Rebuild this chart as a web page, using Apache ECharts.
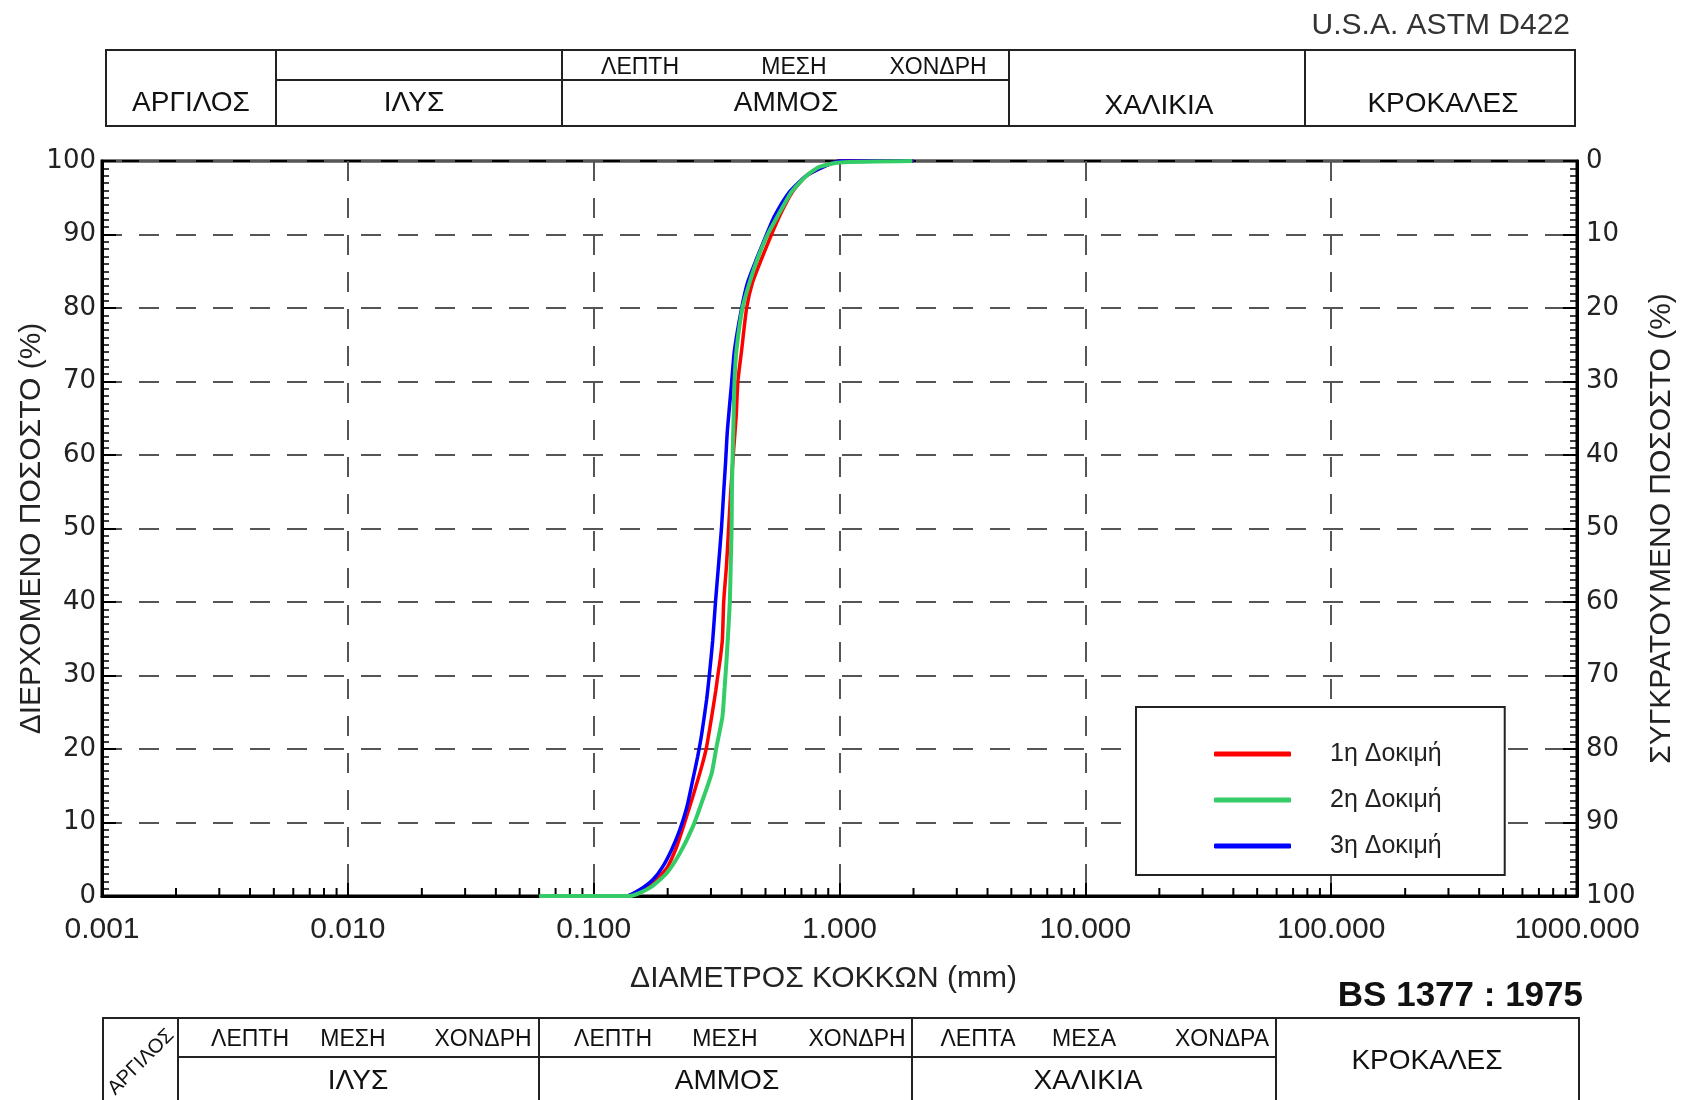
<!DOCTYPE html>
<html><head><meta charset="utf-8">
<script src="https://cdn.jsdelivr.net/npm/echarts@6/dist/echarts.min.js"></script>
<style>html,body{margin:0;padding:0;background:#fff}#c{width:1686px;height:1100px}</style>
</head><body><div id="c"></div>
<script>
// ---- data (diameter mm, % passing) ----
const seriesNames = ['1η Δοκιμή', '2η Δοκιμή', '3η Δοκιμή'];
const seriesColors = ['#ff0000', '#33cc66', '#0000ff'];
const test1 = [[0.082,0],[0.136,0],[0.158,1.0],[0.180,2.2],[0.200,4.0],[0.2175,6.7],[0.234,9.9],[0.253,13.5],[0.275,17.6],[0.288,20.3],[0.302,24.4],[0.314,28.0],[0.320,30.0],[0.328,32.5],[0.334,35.0],[0.338,40.0],[0.347,45.0],[0.354,50.0],[0.361,55.0],[0.371,60.7],[0.380,65.3],[0.386,70.0],[0.400,74.3],[0.419,80.0],[0.443,83.5],[0.482,86.7],[0.529,90.0],[0.570,92.5],[0.644,95.8],[0.734,98.0],[0.886,99.4],[1.0,100],[2.0,100]];
const test2 = [[0.060,0],[0.140,0],[0.169,1.1],[0.198,3.1],[0.224,5.8],[0.253,9.4],[0.277,13.0],[0.302,16.7],[0.316,20.3],[0.334,24.4],[0.341,28.4],[0.347,32.0],[0.351,34.8],[0.358,40.0],[0.361,45.0],[0.364,50.0],[0.365,55.0],[0.367,58.9],[0.371,65.3],[0.374,70.0],[0.381,74.3],[0.403,80.0],[0.431,83.5],[0.464,86.7],[0.510,90.0],[0.560,92.5],[0.638,95.8],[0.734,98.0],[0.829,99.2],[1.0,99.8],[1.98,100]];
const test3 = [[0.082,0],[0.136,0],[0.158,1.1],[0.174,2.2],[0.191,4.0],[0.2075,6.3],[0.224,9.0],[0.239,12.0],[0.253,15.8],[0.265,19.0],[0.275,22.0],[0.288,26.7],[0.296,30.3],[0.305,34.8],[0.313,40.0],[0.322,45.0],[0.331,50.0],[0.338,55.0],[0.344,59.0],[0.350,63.4],[0.364,69.8],[0.374,74.3],[0.400,80.0],[0.423,83.5],[0.460,86.7],[0.505,90.0],[0.544,92.5],[0.626,95.8],[0.734,98.0],[0.886,99.4],[1.0,100],[2.0,100]];

// ---- axis ticks ----
const xTickValues = [0.001, 0.01, 0.1, 1, 10, 100, 1000];
const xTickLabels = ['0.001', '0.010', '0.100', '1.000', '10.000', '100.000', '1000.000'];
const xMinorMultipliers = [2, 3, 4, 5, 6, 7, 8, 9];
const yLeftLabels = ['0','10','20','30','40','50','60','70','80','90','100'];
const yRightLabels = ['0','10','20','30','40','50','60','70','80','90','100'];

// ---- texts ----
const xTitle = 'ΔΙΑΜΕΤΡΟΣ ΚΟΚΚΩΝ (mm)';
const yLeftTitle = 'ΔΙΕΡΧΟΜΕΝΟ ΠΟΣΟΣΤΟ (%)';
const yRightTitle = 'ΣΥΓΚΡΑΤΟΥΜΕΝΟ ΠΟΣΟΣΤΟ (%)';
const topStandard = 'U.S.A. ASTM D422';
const bottomStandard = 'BS 1377 : 1975';

const xMinorTicks = [];
xTickValues.slice(0, -1).forEach(d => xMinorMultipliers.forEach(m => xMinorTicks.push(+(d * m).toPrecision(3))));

const SANS = '"Liberation Sans", Arial, sans-serif';
const chart = echarts.init(document.getElementById('c'), null, {renderer: 'canvas'});

function xLabel(v) {
  const i = xTickValues.findIndex(t => Math.abs(Math.log10(t) - Math.log10(v)) < 1e-6);
  return i >= 0 ? xTickLabels[i] : '';
}
const dash = {type: [20, 17], color: '#555', width: 2};

const series = [
  {name: seriesNames[0], data: test1, color: seriesColors[0], w: 3.5},
  {name: seriesNames[2], data: test3, color: seriesColors[2], w: 3.5},
  {name: seriesNames[1], data: test2, color: seriesColors[1], w: 4}
].map(s => ({
  type: 'line', name: s.name, data: s.data, showSymbol: false, symbol: 'none',
  smooth: 0.2, clip: false, color: s.color, z: 5,
  lineStyle: {color: s.color, width: s.w}
}));

series.push({
  type: 'custom', name: 'minorTicks', silent: true, clip: false, z: 3,
  data: xMinorTicks.map(v => [v, 0]),
  renderItem: (params, api) => {
    const p = api.coord([api.value(0), 0]);
    return {type: 'line', shape: {x1: p[0], y1: p[1], x2: p[0], y2: p[1] - 8},
            style: {stroke: '#000', lineWidth: 2}};
  }
});

const yAxisCommon = {
  type: 'value', min: 0, max: 100, interval: 10,
  axisLine: {show: true, lineStyle: {color: '#000', width: 3}},
  axisTick: {show: true, inside: true, length: 14, lineStyle: {color: '#000', width: 2}},
  minorTick: {show: true, splitNumber: 10, length: 7, lineStyle: {color: '#000', width: 1.5}},
  nameLocation: 'middle', nameRotate: 90,
  nameTextStyle: {fontFamily: SANS, fontSize: 30, color: '#222'}
};

chart.setOption({
  animation: false,
  backgroundColor: '#fff',
  grid: {left: 102, top: 161, width: 1475, height: 735, show: true,
         borderColor: '#000', borderWidth: 3, backgroundColor: 'transparent',
         containLabel: false, outerBoundsMode: 'none'},
  legend: {
    data: seriesNames, orient: 'vertical', left: 1136, top: 707,
    padding: [32, 63, 14, 78], itemGap: 16, itemWidth: 77, itemHeight: 5,
    icon: 'roundRect', borderColor: '#222', borderWidth: 2, backgroundColor: '#fff',
    selectedMode: false,
    textStyle: {fontFamily: SANS, fontSize: 25, color: '#222', lineHeight: 30, padding: [0, 0, 0, 34]}
  },
  xAxis: {
    type: 'log', logBase: 10, min: 0.001, max: 1000, splitNumber: 6,
    name: xTitle, nameLocation: 'middle', nameGap: 68, nameMoveOverlap: false,
    nameTextStyle: {fontFamily: SANS, fontSize: 30, color: '#222', padding: [0, 32, 0, 0]},
    axisLine: {show: true, lineStyle: {color: '#000', width: 3}},
    axisTick: {show: true, inside: true, length: 13, lineStyle: {color: '#000', width: 2}},
    minorTick: {show: false},
    splitLine: {show: true, lineStyle: dash},
    axisLabel: {formatter: xLabel, fontFamily: SANS, fontSize: 30, color: '#222', margin: 19,
                showMinLabel: true, showMaxLabel: true, hideOverlap: false}
  },
  yAxis: [
    Object.assign({}, yAxisCommon, {
      position: 'left', name: yLeftTitle, nameGap: 55, nameMoveOverlap: false,
      splitLine: {show: true, lineStyle: dash},
      axisLabel: {formatter: (v) => yLeftLabels[Math.round(v / 10)], fontFamily: '"DejaVu Sans", Verdana, sans-serif',
                  fontSize: 26, color: '#222', margin: 6}
    }),
    Object.assign({}, yAxisCommon, {
      position: 'right', inverse: true, name: yRightTitle, nameGap: 70, nameMoveOverlap: false,
      splitLine: {show: false},
      axisLabel: {formatter: (v) => yRightLabels[Math.round(v / 10)], fontFamily: '"DejaVu Sans", Verdana, sans-serif',
                  fontSize: 26, color: '#222', margin: 9}
    })
  ],
  series: series
});

// ---- classification tables (decoration) ----
const G = [];
const LW = 2, LC = '#222';
function ln(x1, y1, x2, y2) { G.push({type: 'line', silent: true, shape: {x1, y1, x2, y2}, style: {stroke: LC, lineWidth: LW}}); }
function rc(x, y, w, h) { G.push({type: 'rect', silent: true, shape: {x, y, width: w, height: h}, style: {stroke: LC, lineWidth: LW, fill: 'none'}}); }
function tx(x, y, text, size, extra) {
  G.push(Object.assign({type: 'text', silent: true, x, y,
    style: {text, fill: '#111', font: size + 'px ' + SANS, align: 'center', verticalAlign: 'middle'}}, extra || {}));
}
// top table (ASTM)
rc(106, 50, 1469, 76);
[276, 562, 1009, 1305].forEach(x => ln(x, 50, x, 126));
ln(276, 80, 1009, 80);
tx(191, 103, 'ΑΡΓΙΛΟΣ', 28);
tx(414, 103, 'ΙΛΥΣ', 28);
tx(640, 68, 'ΛΕΠΤΗ', 23); tx(794, 68, 'ΜΕΣΗ', 23); tx(938, 68, 'ΧΟΝΔΡΗ', 23);
tx(786, 103, 'ΑΜΜΟΣ', 28);
tx(1159, 106, 'ΧΑΛΙΚΙΑ', 28);
tx(1443, 104, 'ΚΡΟΚΑΛΕΣ', 28);
G.push({type: 'text', silent: true, x: 1570, y: 26,
  style: {text: topStandard, fill: '#333', font: '30px ' + SANS, align: 'right', verticalAlign: 'middle'}});
// bottom table (BS)
G.push({type: 'text', silent: true, x: 1583, y: 996,
  style: {text: bottomStandard, fill: '#111', font: 'bold 35px ' + SANS, align: 'right', verticalAlign: 'middle'}});
rc(103, 1018, 1476, 110);
[178, 539, 912, 1276].forEach(x => ln(x, 1018, x, 1130));
ln(178, 1057, 1276, 1057);
tx(250, 1040, 'ΛΕΠΤΗ', 23); tx(353, 1040, 'ΜΕΣΗ', 23); tx(483, 1040, 'ΧΟΝΔΡΗ', 23);
tx(613, 1040, 'ΛΕΠΤΗ', 23); tx(725, 1040, 'ΜΕΣΗ', 23); tx(857, 1040, 'ΧΟΝΔΡΗ', 23);
tx(978, 1040, 'ΛΕΠΤΑ', 23); tx(1084, 1040, 'ΜΕΣΑ', 23); tx(1222, 1040, 'ΧΟΝΔΡΑ', 23);
tx(358, 1081, 'ΙΛΥΣ', 28); tx(727, 1081, 'ΑΜΜΟΣ', 28); tx(1088, 1081, 'ΧΑΛΙΚΙΑ', 28);
tx(1427, 1061, 'ΚΡΟΚΑΛΕΣ', 28);
tx(141, 1062, 'ΑΡΓΙΛΟΣ', 20, {rotation: Math.PI / 4});

chart.setOption({graphic: G});
</script></body></html>
